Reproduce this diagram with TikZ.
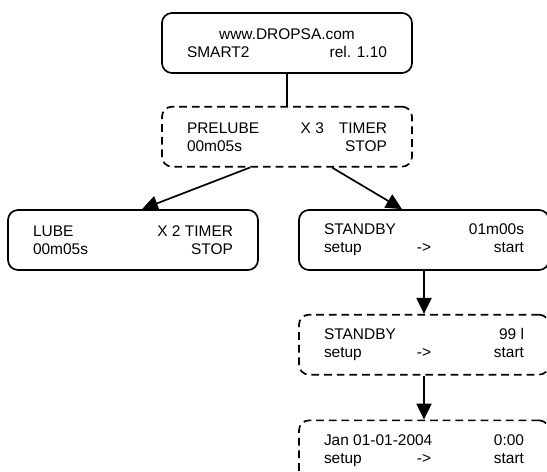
\documentclass[tikz,border=0pt]{standalone}
\usepackage{fontspec}
\setmainfont{Liberation Sans}
\usetikzlibrary{positioning,arrows.meta}

\newcommand{\lcdrow}[3]{\makebox[5cm]{\rlap{#1}\hfill#2\hfill\llap{#3}}}

\tikzset{
    lcd/.style={rectangle, draw, line width=1.2pt, rounded corners=0.25cm, minimum height=1.5cm, minimum width=6.25cm, inner sep=0pt, align=center, font=\fontsize{11}{12.8}\selectfont},
    lcddash/.style={lcd, dash pattern=on 5.5pt off 3.5pt},
    flow/.style={line width=1.2pt, -{Triangle[length=0.4cm, width=0.38cm]}}
}

\begin{document}
\begin{tikzpicture}
            \useasboundingbox (0,0) rectangle (13.675,11.8);

            \node[lcd] (site) at (7.175,10.725) {
                \lcdrow{}{www.DROPSA.com}{}\\ \lcdrow{SMART2}{}{rel. 1.10}
            };

            \node[lcddash, below=0.8cm of site] (prelube) {
                \lcdrow{PRELUBE}{}{X 3\hspace{0.375cm}TIMER}\\ \lcdrow{00m05s}{}{STOP}
            };

            \node[lcd] (lube) at (3.325,5.8) {
                \lcdrow{LUBE}{}{X 2 TIMER}\\ \lcdrow{00m05s}{}{STOP}
            };

            \node[lcd] (standby) at (10.6,5.8) {
                \lcdrow{STANDBY}{}{01m00s}\\ \lcdrow{setup}{->}{start}
            };

            \node[lcddash, below=1.075cm of standby] (volume) {
                \lcdrow{STANDBY}{}{99 l}\\ \lcdrow{setup}{->}{start}
            };

            \node[lcddash, below=1.1cm of volume] (clock) {
                \lcdrow{Jan 01-01-2004}{}{0:00}\\ \lcdrow{setup}{->}{start}
            };

            \draw[line width=1.2pt] (site) -- (prelube);
            \draw[flow] ([xshift=-0.925cm]prelube.south) -- ([xshift=0.225cm]lube.north);
            \draw[flow] ([xshift=1.125cm]prelube.south) -- ([xshift=-0.55cm]standby.north);
            \draw[flow] (standby) -- (volume);
            \draw[flow] (volume) -- (clock);
        \end{tikzpicture}
\end{document}
